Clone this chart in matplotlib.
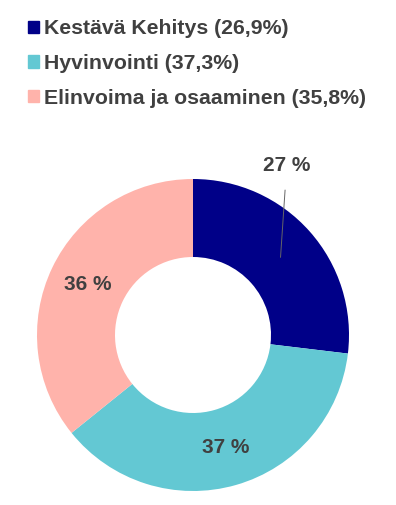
import matplotlib
matplotlib.use("Agg")
import matplotlib.pyplot as plt
import numpy as np

# data
categories = ["Kestävä Kehitys", "Hyvinvointi", "Elinvoima ja osaaminen"]
shares = [26.9, 37.3, 35.8]
legend_labels = ["Kestävä Kehitys (26,9%)", "Hyvinvointi (37,3%)",
                 "Elinvoima ja osaaminen (35,8%)"]
colors = ["#000088", "#63C8D3", "#FFB3AB"]
text_color = "#404040"

plt.rcParams["font.family"] = ["Liberation Sans", "DejaVu Sans"]

W, H = 396, 505
fig = plt.figure(figsize=(W / 100, H / 100), dpi=100)

# donut centre (193, 335) px, radius 156 px
cx, cy, r = 193, 335, 156
ax = fig.add_axes([(cx - r) / W, (H - cy - r) / H, 2 * r / W, 2 * r / H])

wedges, _ = ax.pie(shares, colors=colors, startangle=90, counterclock=False,
                   radius=1, wedgeprops=dict(width=0.5, linewidth=0))
ax.set_xlim(-1, 1)
ax.set_ylim(-1, 1)
ax.set_aspect("equal")
ax.axis("off")

for i, (w, v) in enumerate(zip(wedges, shares)):
    mid = np.deg2rad((w.theta1 + w.theta2) / 2)
    x, y = 0.75 * np.cos(mid), 0.75 * np.sin(mid)
    lab = f"{round(v):d} %"
    if i == 0:
        # label pulled outside with a leader line
        ax.annotate(lab, xy=(x, y), xytext=(x + 0.04, y + 0.59),
                    ha="center", va="center", fontsize=15, fontweight="bold",
                    color=text_color,
                    arrowprops=dict(arrowstyle="-", color="#666666", lw=0.7,
                                    shrinkA=9, shrinkB=0))
    else:
        ax.text(x, y, lab, ha="center", va="center", fontsize=15,
                fontweight="bold", color=text_color)

handles = [plt.Rectangle((0, 0), 1, 1, color=c) for c in colors]
leg = fig.legend(handles, legend_labels, loc="upper left",
                 bbox_to_anchor=(0.05, 0.979), frameon=False,
                 handlelength=0.5, handleheight=0.5, handletextpad=0.25,
                 labelspacing=0.75, borderaxespad=0,
                 prop=dict(size=15.3, weight="bold"))
for t in leg.get_texts():
    t.set_color(text_color)

fig.savefig("out.png", dpi=100)
